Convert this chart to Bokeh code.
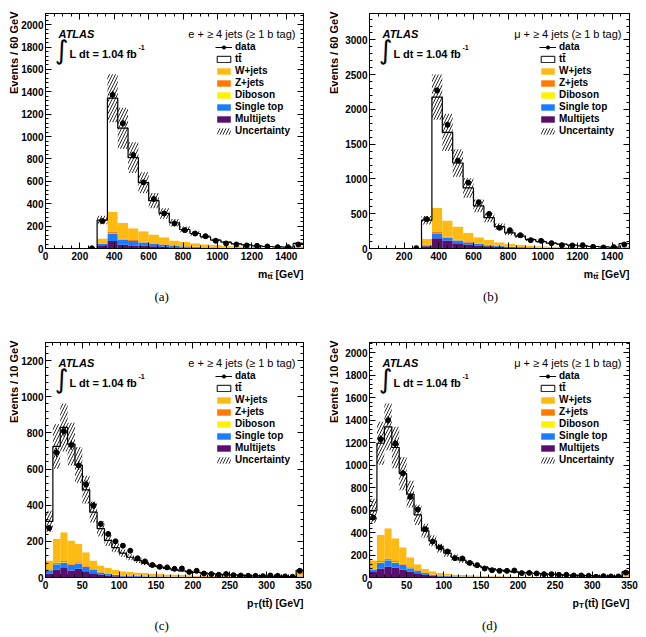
import numpy as np
from bokeh.plotting import figure
from bokeh.layouts import column, row
from bokeh.models import (Range1d, LinearAxis, SingleIntervalTicker, Label,
                          Legend, LegendItem, CustomJSTickFormatter)
from bokeh.core.properties import value
from bokeh.embed import file_html
from bokeh.resources import INLINE

SANS = "Liberation Sans"
SERIF = "Liberation Serif"

# sample colours
C_W = "#FDBA12"
C_Z = "#FF7A00"
C_DB = "#FFF200"
C_ST = "#1A7CFF"
C_MJ = "#5A0F6E"
C_HATCH = "#2a2a2a"

# ---------------- m(tt), 60 GeV bins, 0-1500 GeV (last bin = overflow) ----------------
mtt_edges = list(range(0, 1501, 60))

mtt_e_data = [0, 0, 0, 0, 2, 245, 1373, 1119, 836, 591, 442, 313, 224, 164, 134,
              110, 69, 45, 36, 27, 24, 18, 12, 12, 36]
mtt_e_ttbar = [0, 0, 0, 0, 0, 165, 1014, 845, 630, 433, 302, 212, 158, 113, 86,
               66, 44, 33, 23, 17, 11, 8, 7, 5, 26]
mtt_e_wjets = [0, 0, 0, 0, 0, 45, 180, 140, 106, 92, 75, 62, 43, 35, 30,
               25, 20, 16, 13, 11, 9, 7, 6, 5, 14]
mtt_e_zjets = [0, 0, 0, 0, 0, 3, 15, 10, 8, 7, 6, 5, 4, 3, 3,
               2, 2, 1, 1, 1, 1, 1, 0, 0, 1]
mtt_e_diboson = [0, 0, 0, 0, 0, 1, 3, 2, 2, 2, 2, 1, 1, 1, 1,
                 1, 1, 1, 0, 0, 0, 0, 0, 0, 0]
mtt_e_singletop = [0, 0, 0, 0, 0, 10, 65, 45, 39, 30, 21, 17, 12, 9, 7,
                   5, 4, 3, 2, 2, 1, 1, 1, 1, 2]
mtt_e_multijets = [0, 0, 0, 0, 0, 30, 66, 33, 27, 24, 21, 16, 12, 9, 7,
                   5, 4, 3, 3, 2, 2, 1, 1, 1, 2]
mtt_e_unc = [0, 0, 0, 0, 0, 0.15, 0.16, 0.17, 0.17, 0.16, 0.16, 0.15, 0.15, 0.15, 0.15,
             0.15, 0.15, 0.15, 0.15, 0.15, 0.15, 0.15, 0.15, 0.15, 0.15]

mtt_mu_data = [0, 0, 0, 0, 5, 421, 2273, 1780, 1263, 947, 665, 498, 297, 263, 191,
               120, 110, 77, 48, 43, 48, 24, 14, 19, 57]
mtt_mu_ttbar = [0, 0, 0, 0, 0, 268, 1593, 1268, 914, 646, 449, 321, 225, 158, 124,
                86, 66, 50, 41, 30, 23, 19, 15, 11, 43]
mtt_mu_wjets = [0, 0, 0, 0, 0, 84, 342, 232, 189, 131, 93, 71, 52, 38, 30,
                25, 20, 16, 13, 11, 9, 7, 6, 5, 20]
mtt_mu_zjets = [0, 0, 0, 0, 0, 5, 20, 12, 9, 7, 5, 4, 3, 2, 2,
                2, 1, 1, 1, 1, 1, 0, 0, 0, 1]
mtt_mu_diboson = [0, 0, 0, 0, 0, 2, 4, 3, 3, 2, 2, 1, 1, 1, 1,
                  1, 1, 1, 0, 0, 0, 0, 0, 0, 0]
mtt_mu_singletop = [0, 0, 0, 0, 0, 15, 70, 40, 38, 28, 20, 15, 11, 8, 6,
                    5, 4, 3, 2, 2, 2, 1, 1, 1, 3]
mtt_mu_multijets = [0, 0, 0, 0, 0, 33, 148, 115, 77, 57, 43, 33, 24, 18, 14,
                    10, 8, 6, 5, 4, 3, 2, 2, 2, 5]
mtt_mu_unc = [0, 0, 0, 0, 0, 0.15, 0.15, 0.16, 0.16, 0.16, 0.15, 0.15, 0.15, 0.15, 0.15,
              0.15, 0.15, 0.15, 0.15, 0.15, 0.15, 0.15, 0.15, 0.15, 0.15]

# ---------------- pT(tt), 10 GeV bins, 0-350 GeV (last bin = overflow) ----------------
ptt_edges = list(range(0, 351, 10))

ptt_e_data = [274, 691, 809, 733, 620, 515, 398, 296, 241, 200,
              176, 148, 106, 89, 69, 59, 56, 48, 50, 31,
              37, 22, 19, 15, 19, 13, 11, 9, 9, 7,
              11, 9, 6, 4, 37]
ptt_e_ttbar = [216, 511, 579, 533, 435, 345, 268, 203, 151, 122,
               100, 81, 67, 55, 46, 38, 33, 27, 22, 19,
               17, 14, 12, 10, 8, 7, 5, 4, 4, 3,
               2, 2, 1, 1, 6]
ptt_e_wjets = [49, 133, 160, 128, 103, 77, 49, 36, 32, 27,
               22, 20, 18, 16, 14, 13, 12, 11, 10, 9,
               8, 8, 7, 6, 6, 5, 5, 5, 4, 4,
               4, 3, 3, 3, 25]
ptt_e_zjets = [4, 6, 7, 6, 5, 4, 3, 2, 2, 1,
               1, 1, 1, 1, 1, 1, 1, 1, 1, 1,
               1, 0, 0, 0, 0, 0, 0, 0, 0, 0,
               0, 0, 0, 0, 2]
ptt_e_diboson = [1, 2, 2, 2, 2, 1, 1, 1, 1, 1,
                 1, 1, 1, 1, 1, 1, 0, 0, 0, 0,
                 0, 0, 0, 0, 0, 0, 0, 0, 0, 0,
                 0, 0, 0, 0, 1]
ptt_e_singletop = [18, 30, 30, 30, 29, 23, 17, 11, 8, 7,
                   5, 4, 4, 3, 3, 2, 2, 2, 2, 1,
                   1, 1, 1, 1, 1, 1, 1, 0, 0, 0,
                   0, 0, 0, 0, 3]
ptt_e_multijets = [22, 43, 52, 39, 48, 35, 24, 17, 11, 7,
                   6, 5, 4, 4, 3, 3, 2, 2, 2, 2,
                   1, 1, 1, 1, 1, 1, 1, 1, 1, 1,
                   1, 1, 1, 1, 3]
ptt_e_unc = [0.19, 0.17, 0.16, 0.16, 0.16, 0.16, 0.16, 0.16, 0.15, 0.15,
             0.15, 0.15, 0.15, 0.15, 0.15, 0.15, 0.15, 0.15, 0.15, 0.15,
             0.15, 0.15, 0.15, 0.15, 0.15, 0.15, 0.15, 0.15, 0.15, 0.15,
             0.15, 0.15, 0.15, 0.15, 0.15]

ptt_mu_data = [533, 1230, 1399, 1191, 927, 717, 604, 430, 320, 267,
               231, 172, 169, 130, 110, 80, 65, 59, 59, 62,
               39, 41, 36, 30, 30, 24, 24, 18, 18, 15,
               6, 12, 9, 9, 44]
ptt_mu_ttbar = [439, 815, 901, 806, 654, 561, 440, 340, 271, 221,
                184, 151, 131, 107, 86, 73, 60, 52, 45, 41,
                35, 31, 30, 26, 22, 20, 17, 15, 14, 12,
                11, 9, 8, 7, 15]
ptt_mu_wjets = [76, 232, 268, 203, 147, 88, 50, 31, 26, 19,
                15, 13, 11, 10, 9, 8, 7, 7, 6, 5,
                5, 5, 4, 4, 4, 3, 3, 3, 3, 3,
                2, 2, 2, 2, 26]
ptt_mu_zjets = [6, 12, 14, 12, 9, 7, 5, 4, 3, 2,
                2, 1, 1, 1, 1, 1, 1, 1, 1, 1,
                1, 1, 0, 0, 0, 0, 0, 0, 0, 0,
                0, 0, 0, 0, 2]
ptt_mu_diboson = [2, 3, 3, 3, 3, 2, 2, 1, 1, 1,
                  1, 1, 1, 1, 1, 1, 1, 0, 0, 0,
                  0, 0, 0, 0, 0, 0, 0, 0, 0, 0,
                  0, 0, 0, 0, 1]
ptt_mu_singletop = [20, 55, 55, 46, 43, 30, 22, 15, 10, 8,
                    6, 5, 4, 3, 3, 2, 2, 2, 2, 1,
                    1, 1, 1, 1, 1, 1, 1, 1, 0, 0,
                    0, 0, 0, 0, 3]
ptt_mu_multijets = [50, 77, 98, 86, 68, 53, 38, 24, 15, 10,
                    8, 7, 6, 5, 4, 4, 3, 3, 2, 2,
                    2, 2, 1, 1, 1, 1, 1, 1, 1, 1,
                    1, 1, 1, 1, 3]
ptt_mu_unc = [0.18, 0.16, 0.155, 0.16, 0.16, 0.16, 0.16, 0.15, 0.15, 0.15,
              0.15, 0.15, 0.15, 0.15, 0.15, 0.15, 0.15, 0.15, 0.15, 0.15,
              0.15, 0.15, 0.15, 0.15, 0.15, 0.15, 0.15, 0.15, 0.15, 0.15,
              0.15, 0.15, 0.15, 0.15, 0.15]

LEGEND_LABELS = ["data", "tt\u0304", "W+jets", "Z+jets", "Diboson", "Single top",
                 "Multijets", "Uncertainty"]

STRIP_W = 18        # width of the strip holding the y-axis title
TICK_BAND = 17      # space under the frame for the x tick labels
FRAME_H = 235
BORDER_R = 17


def frame_text(p, text, dx, dy, size, style="bold", align="left",
               baseline="alphabetic", font=SANS, xref="left"):
    """Text at a pixel offset from the top corner of the plot frame (dy grows downward)."""
    x = p.x_range.start if xref == "left" else p.x_range.end
    p.add_layout(Label(x=x, y=p.y_range.end, x_offset=dx, y_offset=-dy, text=text,
                       text_font=font, text_font_size=f"{size}px",
                       text_font_style=style, text_align=align,
                       text_baseline=baseline, text_color="black"))


def text_strip(w, h, x0, x1, border_left=0, border_right=0):
    """Blank figure whose x data units are panel pixels from x0 to x1 and y units
    are pixels measured from the bottom of the strip."""
    s = figure(width=w, height=h, x_range=Range1d(x0, x1), y_range=Range1d(0, h),
               x_axis_type=None, y_axis_type=None, output_backend="svg",
               toolbar_location=None, min_border=0,
               min_border_left=border_left, min_border_right=border_right,
               outline_line_color=None,
               background_fill_color="white", border_fill_color="white")
    s.grid.visible = False
    return s


def strip_text(s, text, x, y_top, size, style="bold", align="left",
               baseline="alphabetic", font=SANS, angle=0.0):
    s.add_layout(Label(x=x, y=s.height - y_top, text=text, text_font=font,
                       text_font_size=f"{size}px", text_font_style=style,
                       text_align=align, text_baseline=baseline,
                       text_color="black", angle=angle))


def style_axis(ax, labels=True):
    ax.major_tick_in = 6
    ax.major_tick_out = 0
    ax.minor_tick_in = 3
    ax.minor_tick_out = 0
    ax.axis_line_color = "black"
    ax.major_tick_line_color = "black"
    ax.minor_tick_line_color = "black"
    ax.axis_label = None
    if labels:
        ax.major_label_text_font = SANS
        ax.major_label_text_font_style = "bold"
        ax.major_label_text_font_size = "10px"
        ax.major_label_text_color = "black"
    else:
        ax.formatter = CustomJSTickFormatter(code="return ''")
        ax.major_label_standoff = 0


def panel(edges, data, ttbar, wjets, zjets, diboson, singletop, multijets, unc,
          y_max, x_tick, x_minor, y_tick, y_minor, channel, y_title, x_title,
          caption, width, height, f_left, f_top, cap_x):
    edges = np.asarray(edges, dtype=float)
    left, right = edges[:-1], edges[1:]
    centers = 0.5 * (left + right)

    main_w = width - STRIP_W
    main_h = f_top + FRAME_H + TICK_BAND
    f_right = width - BORDER_R
    p = figure(width=main_w, height=main_h,
               x_range=Range1d(edges[0], edges[-1]), y_range=Range1d(0, y_max),
               output_backend="svg", toolbar_location=None,
               min_border_left=f_left - STRIP_W, min_border_right=BORDER_R,
               min_border_top=f_top, min_border_bottom=TICK_BAND,
               background_fill_color="white", border_fill_color="white")
    p.xgrid.visible = False
    p.ygrid.visible = False
    p.outline_line_color = "black"
    p.outline_line_width = 1

    p.xaxis.ticker = SingleIntervalTicker(interval=x_tick, num_minor_ticks=x_minor)
    p.yaxis.ticker = SingleIntervalTicker(interval=y_tick, num_minor_ticks=y_minor)
    p.xaxis.major_label_standoff = 3
    p.yaxis.major_label_standoff = 2
    style_axis(p.xaxis[0])
    style_axis(p.yaxis[0])
    top_ax = LinearAxis(ticker=SingleIntervalTicker(interval=x_tick, num_minor_ticks=x_minor))
    right_ax = LinearAxis(ticker=SingleIntervalTicker(interval=y_tick, num_minor_ticks=y_minor))
    style_axis(top_ax, labels=False)
    style_axis(right_ax, labels=False)
    p.add_layout(top_ax, "above")
    p.add_layout(right_ax, "right")

    # stacked predictions, bottom to top
    stack = [(multijets, C_MJ), (singletop, C_ST), (diboson, C_DB),
             (zjets, C_Z), (wjets, C_W), (ttbar, "white")]
    base = np.zeros(len(left))
    fills = []
    for vals, col in stack:
        top = base + np.asarray(vals, dtype=float)
        fills.append(p.quad(left=left, right=right, bottom=base, top=top,
                            fill_color=col, line_color=None))
        base = top
    total = base

    # systematic band
    u = np.asarray(unc, dtype=float)
    has = total > 0
    band = p.quad(left=left[has], right=right[has], bottom=(total * (1 - u))[has],
                  top=(total * (1 + u))[has], fill_alpha=0, line_color=None,
                  hatch_pattern="/", hatch_color=C_HATCH, hatch_scale=6,
                  hatch_weight=1)

    # outline of the full prediction
    xs, ys = [edges[0]], [0.0]
    for l, r, t in zip(left, right, total):
        xs += [l, r]
        ys += [t, t]
    xs.append(edges[-1])
    ys.append(0.0)
    p.line(xs, ys, line_color="black", line_width=1.2)

    # data with statistical errors
    d = np.asarray(data, dtype=float)
    m = d > 0
    err = np.sqrt(d[m])
    p.segment(centers[m], d[m] - err, centers[m], d[m] + err,
              line_color="black", line_width=1)
    pts = p.scatter(centers[m], d[m], size=5, color="black")

    # legend swatches, kept below the visible y range
    off = -0.1 * y_max
    data_line = p.line([edges[0], edges[1]], [off, off], line_color="black", line_width=1)
    tt_box = p.quad(left=[edges[0]], right=[edges[1]], bottom=[2 * off], top=[off],
                    fill_color="white", line_color="black", line_width=1)

    entries = [[data_line, pts], [tt_box], [fills[4]], [fills[3]], [fills[2]],
               [fills[1]], [fills[0]], [band]]
    items = [LegendItem(label=value(lab), renderers=rs)
             for lab, rs in zip(LEGEND_LABELS, entries)]
    legend = Legend(items=items, location=(170, 112), orientation="vertical",
                    background_fill_alpha=0, border_line_alpha=0,
                    padding=0, margin=0, spacing=1,
                    glyph_width=17, glyph_height=8, label_height=10,
                    label_standoff=3,
                    label_text_font=SANS, label_text_font_style="bold",
                    label_text_font_size="10px", label_text_color="black")
    p.add_layout(legend)

    # annotations in the frame
    frame_text(p, "ATLAS", 13, 20, 11, style="bold italic")
    frame_text(p, "\u222b", 16, 36, 26, style="normal", align="center",
               baseline="middle", font="DejaVu Sans")
    frame_text(p, "L dt = 1.04 fb", 24, 40, 11)
    frame_text(p, "-1", 93, 34, 7)
    frame_text(p, channel, -8, 20, 11, style="normal", align="right", xref="right")

    # y-axis title in its own strip on the left
    ys_fig = text_strip(STRIP_W, height, 0, STRIP_W)
    strip_text(ys_fig, y_title, 7, f_top - 2, 11, align="right", baseline="top",
               angle=np.pi / 2)

    # x-axis title and caption in a strip under the plot, sharing the frame's borders
    bs_fig = text_strip(main_w, height - main_h, f_left, f_right,
                        border_left=f_left - STRIP_W, border_right=BORDER_R)
    for text, dx, dy, size in x_title:
        strip_text(bs_fig, text, f_right + dx, dy - TICK_BAND, size, align="right")
    strip_text(bs_fig, caption, cap_x, 48 - TICK_BAND, 13, style="normal",
               align="center", baseline="middle", font=SERIF)

    return row(ys_fig, column(p, bs_fig))


mtt_title = [("[GeV]", 0, 25, 10.5), ("tt\u0304", -31, 28, 8), ("m", -36.5, 25, 10.5)]
ptt_title = [("(tt\u0304) [GeV]", 0, 25, 10.5), ("T", -45.5, 28, 8), ("p", -50.5, 25, 10.5)]

pa = panel(mtt_edges, mtt_e_data, mtt_e_ttbar, mtt_e_wjets, mtt_e_zjets,
           mtt_e_diboson, mtt_e_singletop, mtt_e_multijets, mtt_e_unc,
           2100, 200, 4, 200, 5, "e + \u2265 4 jets (\u2265 1 b tag)",
           "Events / 60 GeV", mtt_title, "(a)", 320, 320, 43, 13, 160)
pb = panel(mtt_edges, mtt_mu_data, mtt_mu_ttbar, mtt_mu_wjets, mtt_mu_zjets,
           mtt_mu_diboson, mtt_mu_singletop, mtt_mu_multijets, mtt_mu_unc,
           3380, 200, 4, 500, 5, "\u03bc + \u2265 4 jets (\u2265 1 b tag)",
           "Events / 60 GeV", mtt_title, "(b)", 326, 320, 49, 13, 170)
pc = panel(ptt_edges, ptt_e_data, ptt_e_ttbar, ptt_e_wjets, ptt_e_zjets,
           ptt_e_diboson, ptt_e_singletop, ptt_e_multijets, ptt_e_unc,
           1300, 50, 5, 200, 5, "e + \u2265 4 jets (\u2265 1 b tag)",
           "Events / 10 GeV", ptt_title, "(c)", 320, 317, 43, 22, 160)
pd = panel(ptt_edges, ptt_mu_data, ptt_mu_ttbar, ptt_mu_wjets, ptt_mu_zjets,
           ptt_mu_diboson, ptt_mu_singletop, ptt_mu_multijets, ptt_mu_unc,
           2090, 50, 5, 200, 5, "\u03bc + \u2265 4 jets (\u2265 1 b tag)",
           "Events / 10 GeV", ptt_title, "(d)", 326, 317, 49, 22, 169)

layout = column(row(pa, pb), row(pc, pd))
open("out.html", "w").write(file_html(layout, INLINE))
